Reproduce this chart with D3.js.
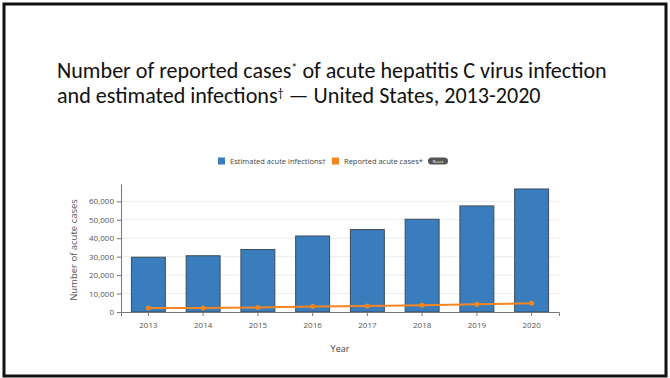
<!DOCTYPE html>
<html>
<head>
<meta charset="utf-8">
<script src="https://cdn.jsdelivr.net/npm/d3@7"></script>
<style>
  body { margin: 0; background: #fff; }
  svg { display: block; }
</style>
</head>
<body>
<svg id="chart" width="670" height="378"></svg>
<script>
// Data
const years = ["2013", "2014", "2015", "2016", "2017", "2018", "2019", "2020"];
const estimatedInfections = [29700, 30500, 33900, 41200, 44700, 50300, 57500, 66700];
const reportedCases = [2138, 2194, 2436, 2967, 3216, 3621, 4136, 4798];
const yTicks = [0, 10000, 20000, 30000, 40000, 50000, 60000];
const titleLines = [
  "Number of reported cases* of acute hepatitis C virus infection",
  "and estimated infections\u2020 \u2014 United States, 2013-2020"
];

const svg = d3.select("#chart");
const font = "'Open Sans', 'Noto Sans', sans-serif";

// slide frame
svg.append("rect")
  .attr("x", 4).attr("y", 4)
  .attr("width", 662).attr("height", 372)
  .attr("fill", "none")
  .attr("stroke", "#111")
  .attr("stroke-width", 3);

// title, sized to fit the reference width
const title = svg.append("g");
titleLines.forEach((line, i) => {
  const t = title.append("text")
    .attr("x", 57)
    .attr("y", 78 + i * 25)
    .style("font-family", "Carlito, 'Liberation Sans Narrow', 'Open Sans', sans-serif")
    .style("font-size", "20px")
    .attr("fill", "#111");
  // superscript marks
  const parts = line.split(/([*\u2020])/);
  let shift = 0;
  parts.forEach(p => {
    if (p === "*" || p === "\u2020") {
      t.append("tspan").attr("class", "sup").attr("dy", -6).text(p);
      shift = 6;
    } else if (p) {
      t.append("tspan").attr("dy", shift).text(p);
      shift = 0;
    }
  });
});
// scale font so first line spans ~555px
const firstLen = title.select("text").node().getComputedTextLength();
const fs = 20 * 555 / firstLen;
title.selectAll("text").style("font-size", fs + "px");
title.selectAll("tspan.sup").style("font-size", (fs * 0.55) + "px");

// chart
const margin = { left: 121, right: 559, top: 184, bottom: 312 };

const x = d3.scaleBand()
  .domain(years)
  .range([margin.left, margin.right])
  .paddingInner(0.38)
  .paddingOuter(0.19);

const y = d3.scaleLinear()
  .domain([0, 69400])
  .range([margin.bottom, margin.top]);

// grid
svg.append("g")
  .selectAll("line")
  .data(yTicks.slice(1))
  .join("line")
  .attr("x1", margin.left).attr("x2", margin.right)
  .attr("y1", d => y(d)).attr("y2", d => y(d))
  .attr("stroke", "#ececec")
  .attr("stroke-width", 1);

// bars
svg.append("g")
  .selectAll("rect")
  .data(years)
  .join("rect")
  .attr("x", d => x(d))
  .attr("y", (d, i) => y(estimatedInfections[i]))
  .attr("width", x.bandwidth())
  .attr("height", (d, i) => y(0) - y(estimatedInfections[i]))
  .attr("fill", "#3a7dbd")
  .attr("stroke", "#3b4a5a")
  .attr("stroke-width", 1);

// axes
const xAxis = svg.append("g")
  .attr("transform", `translate(0,${margin.bottom})`)
  .call(d3.axisBottom(x).tickSizeInner(4).tickSizeOuter(4));

const yAxis = svg.append("g")
  .attr("transform", `translate(${margin.left},0)`)
  .call(d3.axisLeft(y).tickValues(yTicks).tickFormat(d3.format(",")).tickSizeInner(4).tickSizeOuter(0));

[xAxis, yAxis].forEach(a => {
  a.selectAll("path, line").attr("stroke", "#777");
  a.selectAll("text")
    .style("font-family", font)
    .style("font-size", "8px")
    .attr("fill", "#555");
});
xAxis.selectAll("text").attr("dy", "1.1em");

// reported cases line
const line = d3.line()
  .x((d, i) => x(years[i]) + x.bandwidth() / 2)
  .y(d => y(d));

svg.append("path")
  .datum(reportedCases)
  .attr("d", line)
  .attr("fill", "none")
  .attr("stroke", "#f5861f")
  .attr("stroke-width", 2);

svg.append("g")
  .selectAll("circle")
  .data(reportedCases)
  .join("circle")
  .attr("cx", (d, i) => x(years[i]) + x.bandwidth() / 2)
  .attr("cy", d => y(d))
  .attr("r", 2.5)
  .attr("fill", "#f5861f");

// axis titles
svg.append("text")
  .attr("transform", `translate(77,${(margin.top + margin.bottom) / 2 + 2}) rotate(-90)`)
  .attr("text-anchor", "middle")
  .style("font-family", font)
  .style("font-size", "9.5px")
  .attr("fill", "#555")
  .text("Number of acute cases");

svg.append("text")
  .attr("x", 340)
  .attr("y", 352)
  .attr("text-anchor", "middle")
  .style("font-family", font)
  .style("font-size", "9px")
  .attr("fill", "#444")
  .text("Year");

// legend
const legend = svg.append("g").attr("transform", "translate(218,161)");
const legendItems = [
  { label: "Estimated acute infections\u2020", color: "#3a7dbd", x: 0 },
  { label: "Reported acute cases*", color: "#f5861f", x: 114 }
];
legendItems.forEach(it => {
  legend.append("rect")
    .attr("x", it.x).attr("y", -3.5)
    .attr("width", 7).attr("height", 7)
    .attr("fill", it.color);
  legend.append("text")
    .attr("x", it.x + 12).attr("y", 2.5)
    .style("font-family", font)
    .style("font-size", "7.5px")
    .attr("fill", "#444")
    .text(it.label);
});
legend.append("rect")
  .attr("x", 210).attr("y", -3.5)
  .attr("width", 20).attr("height", 7)
  .attr("rx", 3.5)
  .attr("fill", "#555");
legend.append("text")
  .attr("x", 220).attr("y", 1.5)
  .attr("text-anchor", "middle")
  .style("font-family", font)
  .style("font-size", "4px")
  .attr("fill", "#fff")
  .text("Reset");
</script>
</body>
</html>
